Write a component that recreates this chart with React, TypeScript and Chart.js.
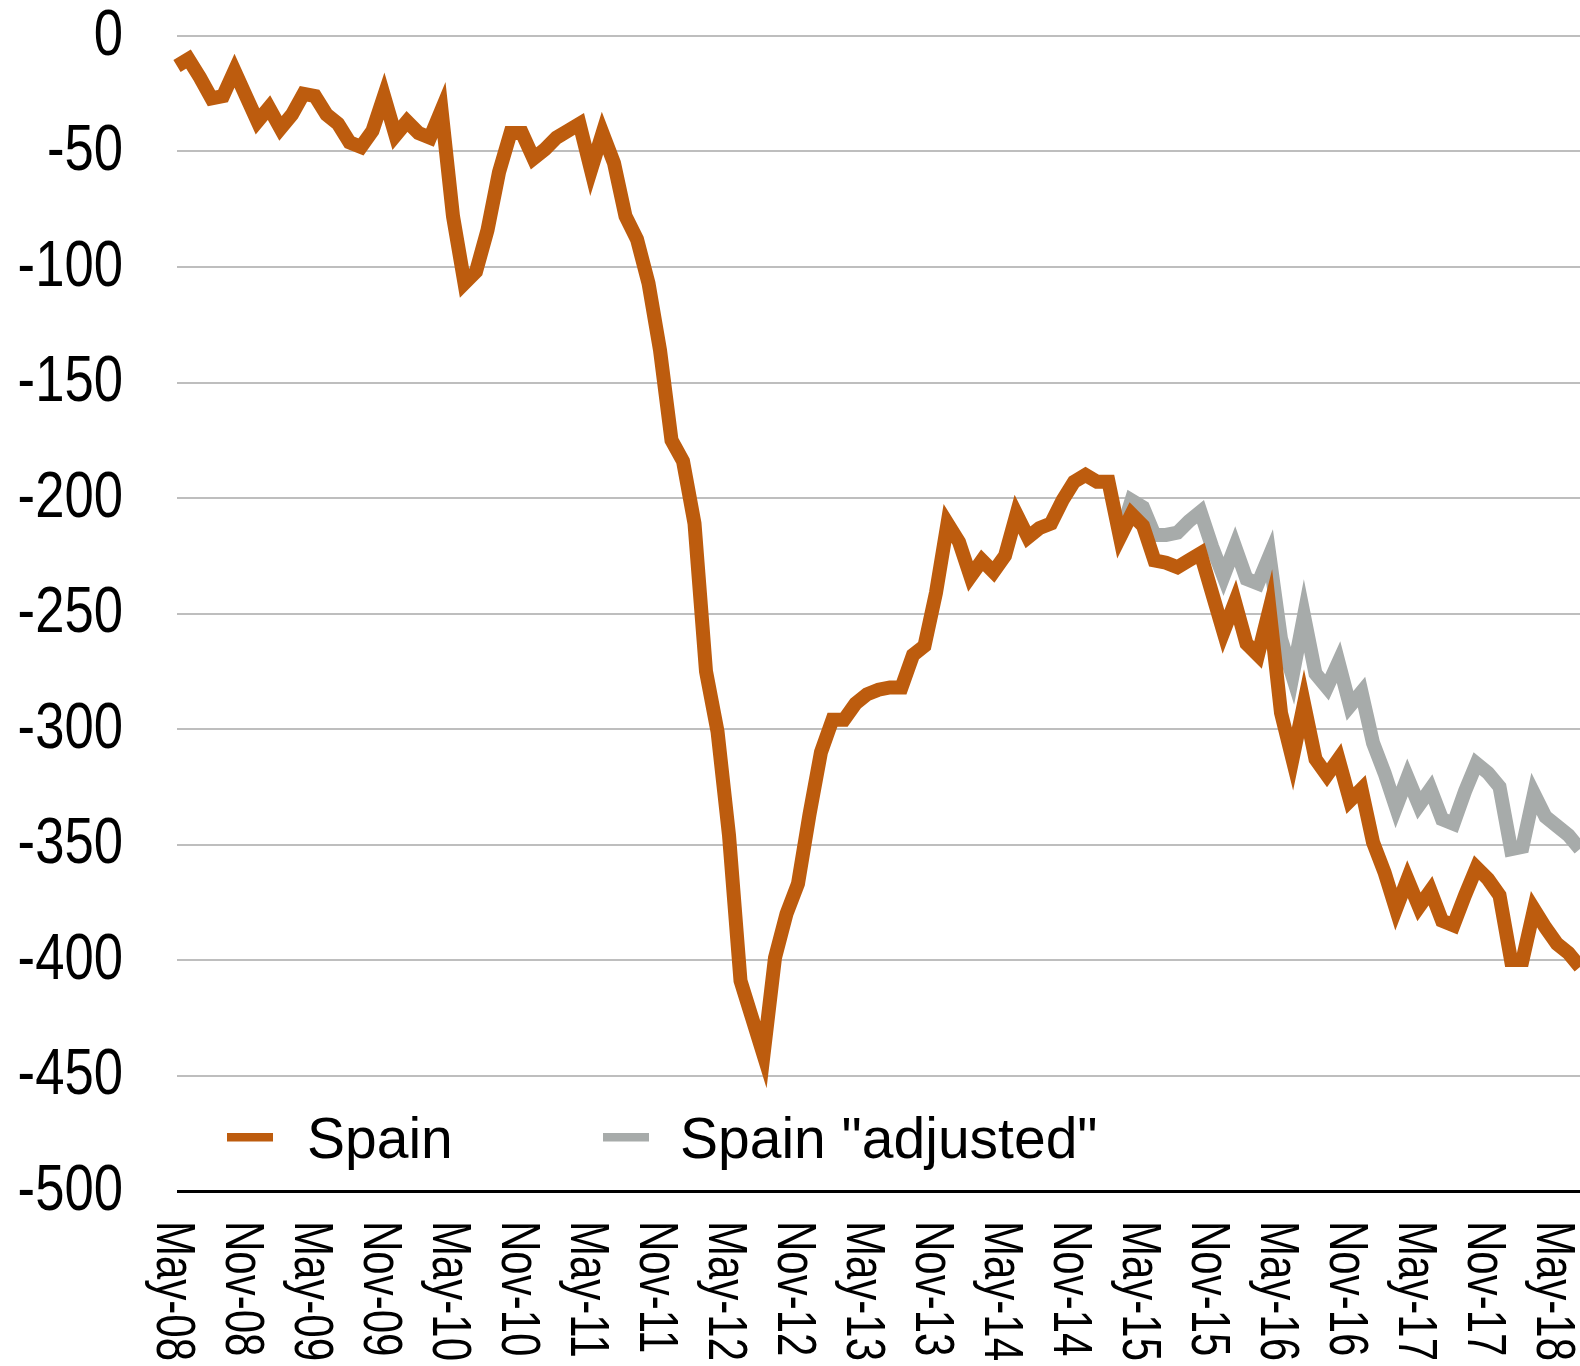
import React, { useEffect, useRef } from "react";
import { Chart, registerables } from "chart.js";

Chart.register(...registerables);

const MONTH_NAMES = ["Jan", "Feb", "Mar", "Apr", "May", "Jun", "Jul", "Aug", "Sep", "Oct", "Nov", "Dec"];

// Monthly categories May-08 ... Jul-18
const categories: string[] = [];
for (let i = 0; i < 123; i++) {
  const m = (4 + i) % 12;
  const yr = 8 + Math.floor((4 + i) / 12);
  categories.push(`${MONTH_NAMES[m]}-${String(yr).padStart(2, "0")}`);
}

const xTickLabels = [
  "May-08", "Nov-08", "May-09", "Nov-09", "May-10", "Nov-10", "May-11", "Nov-11",
  "May-12", "Nov-12", "May-13", "Nov-13", "May-14", "Nov-14", "May-15", "Nov-15",
  "May-16", "Nov-16", "May-17", "Nov-17", "May-18",
];

const yTickValues = [0, -50, -100, -150, -200, -250, -300, -350, -400, -450, -500];

const spain = [
  -13, -10, -18, -27, -26, -15, -26, -37, -31, -40,
  -34, -25, -26, -34, -38, -46, -48, -41, -26, -43,
  -37, -42, -44, -32, -78, -107, -102, -84, -59, -42,
  -42, -53, -49, -44, -41, -38, -58, -42, -55, -78,
  -88, -107, -136, -175, -184, -211, -275, -301, -346, -409,
  -425, -441, -399, -380, -367, -337, -310, -296, -296, -289,
  -285, -283, -282, -282, -268, -264, -241, -211, -219, -234,
  -227, -232, -225, -207, -217, -213, -211, -201, -193, -190,
  -193, -193, -217, -207, -212, -227, -228, -230, -227, -224,
  -241, -258, -245, -263, -268, -248, -293, -313, -289, -313,
  -320, -313, -331, -326, -349, -362, -378, -365, -377, -370,
  -383, -385, -372, -360, -365, -372, -400, -400, -378, -386,
  -393, -397, -403,
];

// "adjusted" series starts at Mar-15 (coincident with Spain there)
const adjustedStartLabel = "Mar-15";
const spainAdjusted = [
  -217, -201, -204, -216, -216, -215, -210, -206, -221, -234, -221,
  -235, -237, -225, -261, -277, -251, -276, -282, -271, -290,
  -284, -306, -319, -334, -321, -333, -326, -339, -341, -327,
  -315, -319, -325, -352, -351, -328, -338, -342, -346, -352,
];

const ORANGE = "#BD5C0E";
const GRAY = "#A7ABAA";
const FONT = '"Liberation Sans", Arial, Helvetica, sans-serif';

const textPlugin = {
  id: "customText",
  afterDraw(chart: any) {
    const { ctx, scales, chartArea } = chart;
    const xs = scales.x;
    const ys = scales.y;
    ctx.save();
    ctx.fillStyle = "#000";

    // Y axis labels (condensed)
    ctx.font = `65px ${FONT}`;
    ctx.textAlign = "right";
    ctx.textBaseline = "middle";
    yTickValues.forEach((v) => {
      const y = ys.getPixelForValue(v);
      ctx.save();
      ctx.translate(chartArea.left - 54, y + 1);
      ctx.scale(0.81, 1);
      ctx.fillText(String(v), 0, 0);
      ctx.restore();
    });

    // X axis labels, rotated clockwise, condensed
    ctx.font = `56px ${FONT}`;
    ctx.textAlign = "left";
    ctx.textBaseline = "alphabetic";
    xTickLabels.forEach((lab) => {
      const idx = categories.indexOf(lab);
      const x = xs.getPixelForValue(idx);
      ctx.save();
      ctx.translate(x, chartArea.bottom + 30);
      ctx.rotate(Math.PI / 2);
      ctx.scale(0.75, 1);
      ctx.fillText(lab, 0, 20);
      ctx.restore();
    });

    // Legend inside plot area
    const ds = chart.data.datasets;
    const legendBase = chartArea.bottom - 33;
    const items = [
      { color: ds[0].borderColor, text: ds[0].label, box: 50, tx: 130 },
      { color: ds[1].borderColor, text: ds[1].label, box: 426, tx: 503 },
    ];
    ctx.font = `57px ${FONT}`;
    ctx.textAlign = "left";
    ctx.textBaseline = "alphabetic";
    items.forEach((it) => {
      ctx.fillStyle = it.color;
      ctx.fillRect(chartArea.left + it.box, legendBase - 25, 46, 8.5);
      ctx.fillStyle = "#000";
      ctx.fillText(it.text, chartArea.left + it.tx, legendBase);
    });

    ctx.restore();
  },
};

export default function App() {
  const canvasRef = useRef<HTMLCanvasElement | null>(null);

  useEffect(() => {
    const canvas = canvasRef.current;
    if (!canvas) return;
    const startIdx = categories.indexOf(adjustedStartLabel);
    const adjustedData = categories.map((_, i) =>
      i >= startIdx && i - startIdx < spainAdjusted.length ? spainAdjusted[i - startIdx] : null
    );

    const chart = new Chart(canvas, {
      type: "line",
      data: {
        labels: categories,
        datasets: [
          {
            label: "Spain",
            data: spain,
            borderColor: ORANGE,
            backgroundColor: ORANGE,
            borderWidth: 14,
            pointRadius: 0,
            pointHoverRadius: 0,
            tension: 0,
            fill: false,
            borderJoinStyle: "miter",
            borderCapStyle: "butt",
          },
          {
            label: 'Spain "adjusted"',
            data: adjustedData,
            borderColor: GRAY,
            backgroundColor: GRAY,
            borderWidth: 14,
            pointRadius: 0,
            pointHoverRadius: 0,
            tension: 0,
            fill: false,
            spanGaps: false,
            borderJoinStyle: "miter",
            borderCapStyle: "butt",
          },
        ],
      },
      options: {
        responsive: false,
        maintainAspectRatio: false,
        animation: false,
        layout: { padding: { top: 36, left: 0, right: 0, bottom: 0 } },
        plugins: {
          legend: { display: false },
          tooltip: { enabled: false },
        },
        scales: {
          x: {
            type: "category",
            offset: false,
            grid: { display: false },
            border: { display: false },
            ticks: { display: false },
            afterFit: (s: any) => {
              s.height = 175;
            },
          },
          y: {
            min: -500,
            max: 0,
            ticks: { display: false, stepSize: 50 },
            grid: {
              drawTicks: false,
              color: (c: any) => (c.tick && c.tick.value === -500 ? "#000000" : "#BEBEBE"),
              lineWidth: (c: any) => (c.tick && c.tick.value === -500 ? 3 : 2),
            },
            border: { display: false },
            afterFit: (s: any) => {
              s.width = 177;
            },
          },
        },
      },
      plugins: [textPlugin],
    });

    return () => {
      chart.destroy();
    };
  }, []);

  return (
    <div
      style={{
        position: "absolute",
        left: 0,
        top: 0,
        width: 1580,
        height: 1366,
        background: "#ffffff",
      }}
    >
      <canvas ref={canvasRef} width={1580} height={1366} style={{ display: "block" }} />
    </div>
  );
}
